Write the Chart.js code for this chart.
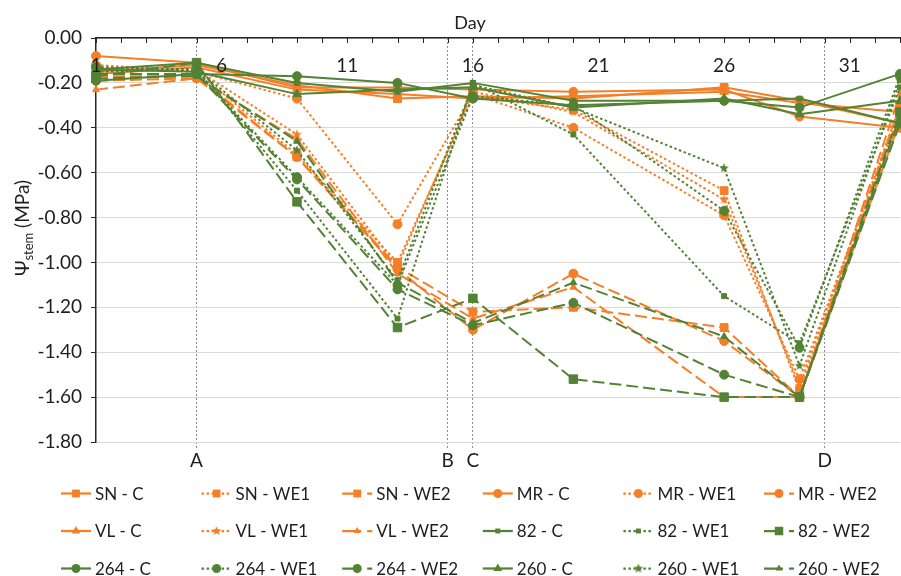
<!DOCTYPE html>
<html>
<head>
<meta charset="utf-8">
<script src="https://cdn.jsdelivr.net/npm/chart.js@4.4.1/dist/chart.umd.min.js"></script>
<style>
  html, body { margin: 0; padding: 0; background: #ffffff; }
  #wrap { width: 901px; height: 576px; }
</style>
</head>
<body>
<div id="wrap"><canvas id="c" width="901" height="576"></canvas></div>
<script>
// ---------------- DATA ----------------
const days = [1, 5, 9, 13, 16, 20, 26, 29, 33];

const snC    = [-0.15, -0.12, -0.21, -0.27, -0.26, -0.27, -0.22, -0.28, -0.38];
const snWE1  = [-0.13, -0.15, -0.52, -1.00, -0.26, -0.32, -0.68, -1.57, -0.35];
const snWE2  = [-0.17, -0.17, -0.53, -1.02, -1.22, -1.20, -1.29, -1.60, -0.30];
const mrC    = [-0.08, -0.11, -0.22, -0.22, -0.23, -0.24, -0.23, -0.35, -0.40];
const mrWE1  = [-0.12, -0.15, -0.27, -0.83, -0.25, -0.40, -0.79, -1.52, -0.33];
const mrWE2  = [-0.19, -0.18, -0.53, -1.03, -1.30, -1.05, -1.35, -1.60, -0.37];
const vlC    = [-0.16, -0.13, -0.23, -0.25, -0.27, -0.26, -0.24, -0.29, -0.33];
const vlWE1  = [-0.14, -0.14, -0.43, -1.02, -0.24, -0.33, -0.72, -1.55, -0.30];
const vlWE2  = [-0.23, -0.18, -0.45, -1.05, -1.25, -1.11, -1.60, -1.60, -0.25];
const g82C   = [-0.14, -0.11, -0.20, -0.24, -0.20, -0.28, -0.28, -0.27, -0.38];
const g82WE1 = [-0.15, -0.14, -0.68, -1.25, -0.20, -0.43, -1.15, -1.36, -0.22];
const g82WE2 = [-0.17, -0.11, -0.73, -1.29, -1.16, -1.52, -1.60, -1.60, -0.33];
const g264C  = [-0.19, -0.16, -0.17, -0.20, -0.27, -0.30, -0.28, -0.31, -0.16];
const g264WE1= [-0.13, -0.15, -0.62, -1.10, -0.26, -0.30, -0.77, -1.38, -0.17];
const g264WE2= [-0.16, -0.16, -0.63, -1.12, -1.28, -1.18, -1.50, -1.60, -0.38];
const g260C  = [-0.14, -0.15, -0.25, -0.23, -0.22, -0.31, -0.27, -0.34, -0.28];
const g260WE1= [-0.13, -0.14, -0.50, -1.08, -0.21, -0.31, -0.58, -1.46, -0.19];
const g260WE2= [-0.18, -0.17, -0.46, -1.09, -1.27, -1.09, -1.33, -1.60, -0.35];

const dayTickLabels = [1, 6, 11, 16, 21, 26, 31];
const refDays = [5, 15, 16, 30];
const refLabels = ['A', 'B', 'C', 'D'];
const yMin = -1.8, yMax = 0, yStep = 0.2;

// ---------------- STYLE ----------------
const ORANGE = '#F47F27';
const GREEN = '#548235';
const TEXT = '#1e1e1e';
const FONT = 'Lato';
const DASH = { C: [], WE1: [2.5, 2.5], WE2: [12, 5] };

function makeStar(color, R) {
  const s = Math.ceil(R * 2 + 2);
  const c = document.createElement('canvas');
  c.width = s; c.height = s;
  const g = c.getContext('2d');
  g.fillStyle = color;
  g.beginPath();
  for (let k = 0; k < 10; k++) {
    const rr = (k % 2) ? R * 0.45 : R;
    const a = -Math.PI / 2 + k * Math.PI / 5;
    g.lineTo(s / 2 + rr * Math.cos(a), s / 2 + rr * Math.sin(a));
  }
  g.closePath();
  g.fill();
  return c;
}
const starO = makeStar(ORANGE, 5);
const starG = makeStar(GREEN, 5);

const seriesSpec = [
  { label: 'SN - C',    data: snC,    color: ORANGE, kind: 'C',   ps: 'rect',     r: 5.5 },
  { label: 'SN - WE1',  data: snWE1,  color: ORANGE, kind: 'WE1', ps: 'rect',     r: 5.5 },
  { label: 'SN - WE2',  data: snWE2,  color: ORANGE, kind: 'WE2', ps: 'rect',     r: 5.5 },
  { label: 'MR - C',    data: mrC,    color: ORANGE, kind: 'C',   ps: 'circle',   r: 4.5 },
  { label: 'MR - WE1',  data: mrWE1,  color: ORANGE, kind: 'WE1', ps: 'circle',   r: 4.5 },
  { label: 'MR - WE2',  data: mrWE2,  color: ORANGE, kind: 'WE2', ps: 'circle',   r: 4.5 },
  { label: 'VL - C',    data: vlC,    color: ORANGE, kind: 'C',   ps: 'triangle', r: 5 },
  { label: 'VL - WE1',  data: vlWE1,  color: ORANGE, kind: 'WE1', ps: starO,      r: 5 },
  { label: 'VL - WE2',  data: vlWE2,  color: ORANGE, kind: 'WE2', ps: 'triangle', r: 4 },
  { label: '82 - C',    data: g82C,   color: GREEN,  kind: 'C',   ps: 'rect',     r: 3.5 },
  { label: '82 - WE1',  data: g82WE1, color: GREEN,  kind: 'WE1', ps: 'rect',     r: 3.5 },
  { label: '82 - WE2',  data: g82WE2, color: GREEN,  kind: 'WE2', ps: 'rect',     r: 6 },
  { label: '264 - C',   data: g264C,  color: GREEN,  kind: 'C',   ps: 'circle',   r: 4.5 },
  { label: '264 - WE1', data: g264WE1,color: GREEN,  kind: 'WE1', ps: 'circle',   r: 4.5 },
  { label: '264 - WE2', data: g264WE2,color: GREEN,  kind: 'WE2', ps: 'circle',   r: 4.5 },
  { label: '260 - C',   data: g260C,  color: GREEN,  kind: 'C',   ps: 'triangle', r: 5 },
  { label: '260 - WE1', data: g260WE1,color: GREEN,  kind: 'WE1', ps: starG,      r: 5 },
  { label: '260 - WE2', data: g260WE2,color: GREEN,  kind: 'WE2', ps: 'triangle', r: 4 }
];

const datasets = seriesSpec.map((s, i) => ({
  label: s.label,
  data: days.map((d, k) => ({ x: d, y: s.data[k] })),
  borderColor: s.color,
  backgroundColor: s.color,
  borderWidth: 2,
  borderDash: DASH[s.kind],
  pointStyle: s.ps,
  pointRadius: s.r,
  pointBackgroundColor: s.color,
  pointBorderColor: s.color,
  pointBorderWidth: 1,
  tension: 0,
  clip: false,
  order: seriesSpec.length - i,
  _kind: s.kind
}));

// ---------------- PLUGINS ----------------
const titlesPlugin = {
  id: 'titles',
  afterDraw(chart) {
    const ctx = chart.ctx;
    ctx.save();
    ctx.fillStyle = TEXT;
    ctx.font = `18px ${FONT}`;
    ctx.textAlign = 'center';
    ctx.textBaseline = 'middle';
    ctx.fillText('Day', 470, 23);
    const big = `19px ${FONT}`, small = `13px ${FONT}`;
    const p1 = 'Ψ', p2 = 'stem', p3 = ' (MPa)';
    ctx.font = big; const w1 = ctx.measureText(p1).width; const w3 = ctx.measureText(p3).width;
    ctx.font = small; const w2 = ctx.measureText(p2).width;
    const total = w1 + w2 + w3;
    ctx.translate(29, 228);
    ctx.rotate(-Math.PI / 2);
    ctx.textAlign = 'left';
    ctx.textBaseline = 'alphabetic';
    let x = -total / 2;
    ctx.font = big; ctx.fillText(p1, x, 0); x += w1;
    ctx.font = small; ctx.fillText(p2, x, 4); x += w2;
    ctx.font = big; ctx.fillText(p3, x, 0);
    ctx.restore();
  }
};

// inward tick marks along the top day axis, placed by the x scale
const topTicksPlugin = {
  id: 'topTicks',
  afterDatasetsDraw(chart) {
    const sx = chart.scales.x;
    const ctx = chart.ctx;
    const top = chart.chartArea.top;
    ctx.save();
    ctx.strokeStyle = '#262626';
    ctx.lineWidth = 1;
    sx.ticks.forEach(t => {
      const px = Math.round(sx.getPixelForValue(t.value)) + 0.5;
      ctx.beginPath();
      ctx.moveTo(px, top);
      ctx.lineTo(px, top + 5);
      ctx.stroke();
    });
    ctx.restore();
  }
};

function drawMarker(ctx, ps, r, x, y, color) {
  ctx.fillStyle = color;
  if (typeof ps !== 'string') {
    ctx.drawImage(ps, x - ps.width / 2, y - ps.height / 2);
    return;
  }
  ctx.beginPath();
  if (ps === 'rect') {
    const h = r * Math.SQRT1_2;
    ctx.rect(x - h, y - h, 2 * h, 2 * h);
  } else if (ps === 'circle') {
    ctx.arc(x, y, r, 0, Math.PI * 2);
  } else if (ps === 'triangle') {
    for (let k = 0; k < 3; k++) {
      const a = -Math.PI / 2 + k * 2 * Math.PI / 3;
      ctx.lineTo(x + r * Math.cos(a), y + r * Math.sin(a));
    }
    ctx.closePath();
  }
  ctx.fill();
}

const gridLegendPlugin = {
  id: 'gridLegend',
  afterDraw(chart) {
    const ctx = chart.ctx;
    const ds = chart.data.datasets;
    ctx.save();
    ds.forEach((d, i) => {
      const col = i % 6, row = Math.floor(i / 6);
      const x0 = 61 + col * 140.6;
      const y = 493.5 + row * 37.5;
      ctx.strokeStyle = d.borderColor;
      ctx.lineWidth = 2.25;
      const kind = d._kind;
      ctx.setLineDash(kind === 'C' ? [] : kind === 'WE1' ? [2.5, 2.5] : [19, 6]);
      ctx.beginPath();
      ctx.moveTo(x0, y);
      ctx.lineTo(x0 + 30, y);
      ctx.stroke();
      ctx.setLineDash([]);
      drawMarker(ctx, d.pointStyle, d.pointRadius, x0 + 15, y, d.borderColor);
      ctx.fillStyle = TEXT;
      ctx.font = `17px ${FONT}`;
      ctx.textAlign = 'left';
      ctx.textBaseline = 'middle';
      ctx.fillText(d.label, x0 + 34, y + 1);
    });
    ctx.restore();
  }
};

// ---------------- CHART ----------------
new Chart(document.getElementById('c'), {
  type: 'line',
  data: { datasets },
  options: {
    responsive: false,
    animation: false,
    devicePixelRatio: 1,
    layout: { autoPadding: false, padding: { left: 0, right: 1, top: 0, bottom: 102 } },
    plugins: {
      legend: { display: false },
      tooltip: { enabled: false },
      title: { display: false }
    },
    scales: {
      x: {
        type: 'linear',
        position: 'top',
        min: 1,
        max: 33,
        afterBuildTicks: (s) => {
          const t = [];
          for (let d = 1; d <= 33; d++) t.push({ value: d });
          s.ticks = t;
        },
        ticks: {
          autoSkip: false,
          maxRotation: 0,
          padding: -39,
          z: 1,
          color: TEXT,
          font: { family: FONT, size: 19 },
          callback: (v) => dayTickLabels.includes(v) ? String(v) : ''
        },
        grid: {
          display: false,
          drawOnChartArea: false,
          drawTicks: false
        },
        border: { display: true, color: '#262626', width: 1.5 },
        afterFit: (s) => {
          s.height = 38;
          s._computeLabelArea = () => undefined;
        }
      },
      x2: {
        type: 'linear',
        position: 'bottom',
        min: 1,
        max: 33,
        afterBuildTicks: (s) => { s.ticks = refDays.map(v => ({ value: v })); },
        ticks: {
          autoSkip: false,
          maxRotation: 0,
          padding: 0,
          color: TEXT,
          font: { family: FONT, size: 19 },
          callback: (v) => { const k = refDays.indexOf(v); return k >= 0 ? refLabels[k] : ''; }
        },
        grid: {
          display: true,
          drawOnChartArea: true,
          drawTicks: true,
          tickLength: 7,
          color: '#8a8a8a',
          lineWidth: 1,
          tickColor: '#8a8a8a',
          tickWidth: 1,
          tickBorderDash: [2, 2]
        },
        border: { display: false, dash: [2, 2] },
        afterFit: (s) => { s.height = 32; }
      },
      y: {
        type: 'linear',
        min: yMin,
        max: yMax,
        ticks: {
          stepSize: yStep,
          padding: 9,
          color: TEXT,
          font: { family: FONT, size: 19 },
          callback: (v) => (Math.abs(v) < 1e-9 ? 0 : v).toFixed(2)
        },
        grid: {
          color: '#d9d9d9',
          lineWidth: 1,
          drawTicks: true,
          tickLength: 5,
          tickColor: '#262626'
        },
        border: { display: true, color: '#262626', width: 1.5 },
        afterFit: (s) => { s.width = 96; }
      }
    }
  },
  plugins: [titlesPlugin, topTicksPlugin, gridLegendPlugin]
});
</script>
</body>
</html>
